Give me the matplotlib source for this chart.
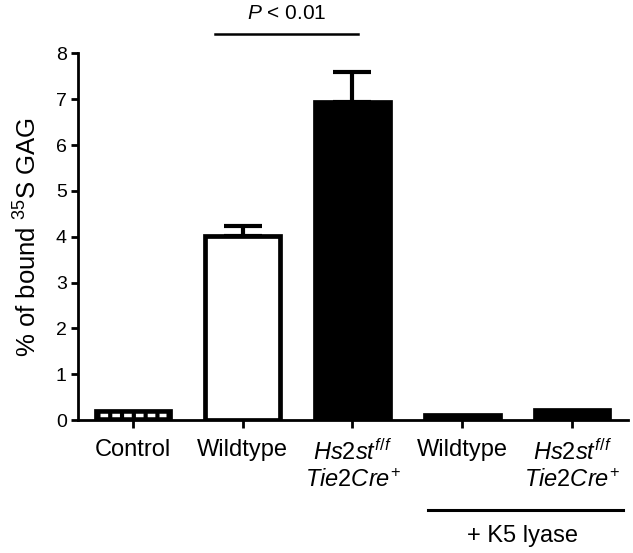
import numpy as np
import matplotlib.pyplot as plt

plt.rcParams['font.family'] = 'Liberation Sans'
plt.rcParams['mathtext.fontset'] = 'custom'
plt.rcParams['mathtext.rm'] = 'Liberation Sans'
plt.rcParams['mathtext.it'] = 'Liberation Sans:italic'

# data
groups = ['Control', 'Wildtype', r'$\mathit{Hs2st}^{\mathit{f/f}}$' + '\n' + r'$\mathit{Tie2Cre}^{+}$',
          'Wildtype', r'$\mathit{Hs2st}^{\mathit{f/f}}$' + '\n' + r'$\mathit{Tie2Cre}^{+}$']
values = [0.20, 4.01, 6.93, 0.11, 0.22]
errors = [0.0, 0.22, 0.66, 0.0, 0.0]
fills = ['black', 'white', 'black', 'black', 'black']

fig = plt.figure(figsize=(6.33, 5.53), dpi=100)
ax = fig.add_axes([0.1232, 0.2405, 0.869, 0.663])

x = np.arange(len(values))
ax.bar(x, values, width=0.68, color=fills, edgecolor='black', linewidth=3.4, zorder=2)
ax.errorbar(x[1:3], values[1:3], yerr=[[0, 0], errors[1:3]], fmt='none',
            ecolor='black', elinewidth=3, capsize=14, capthick=3, zorder=1)
# white dashes inside the short control bar
ax.plot([x[0] - 0.3, x[0] + 0.3], [values[0] / 2, values[0] / 2], color='white',
        lw=2.5, ls=(0, (2.2, 1.2)), zorder=3)

ax.set_xlim(-0.5, 4.51)
ax.set_ylim(0, 8)
ax.set_yticks(range(0, 9))
ax.set_xticks(x)
ax.set_xticklabels(groups, fontsize=17)
ax.tick_params(axis='x', length=6, width=2, pad=8)
ax.tick_params(axis='y', length=5, width=2, labelsize=14, pad=3)
for s in ['top', 'right']:
    ax.spines[s].set_visible(False)
for s in ['left', 'bottom']:
    ax.spines[s].set_linewidth(2)

ax.set_ylabel(r'% of bound $^{35}$S GAG', fontsize=18.5, labelpad=10)

# significance bar
ax.plot([0.75, 2.05], [8.43, 8.43], color='black', lw=1.8, clip_on=False)
ax.text(1.4, 8.75, r'$\mathit{P}$ < 0.01', ha='center', va='baseline', fontsize=15)

# K5 lyase bracket
ax.plot([2.69, 4.46], [-1.97, -1.97], color='black', lw=2.2, clip_on=False)
ax.text(3.55, -2.53, '+ K5 lyase', ha='center', va='center', fontsize=17)

fig.savefig('out.png', dpi=100)
